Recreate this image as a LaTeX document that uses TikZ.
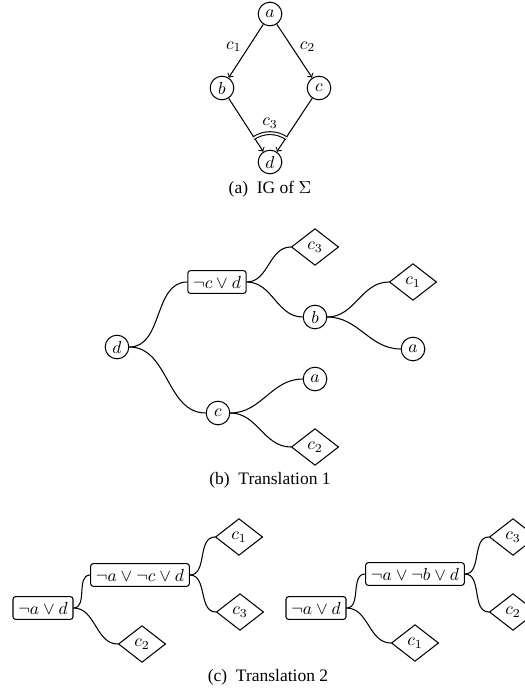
\documentclass[tikz,border=0pt]{standalone}
\usepackage[no-math]{fontspec}
\setmainfont{Liberation Serif}
\usetikzlibrary{shapes.geometric,calc}

\begin{document}
\begin{tikzpicture}[x=0.5714pt,y=0.5714pt,line width=0.6pt,
  every node/.style={font=\normalsize,line width=0.6pt},
  var/.style={circle,draw,inner sep=1.5pt,minimum size=13.5pt},
  clause/.style={rectangle,draw,rounded corners=1.5pt,inner sep=3pt,
    minimum height=13pt},
  cons/.style={diamond,draw,inner sep=0pt,minimum width=27pt,minimum height=21pt},
  branch/.style={out=0,in=180},
  caption/.style={anchor=base}]
  \useasboundingbox (0,0) rectangle (525,-688);
  % (a) IG
  \node[var] (ga) at (270,-14) {$a$};
  \node[var] (gb) at (222,-88) {$b$};
  \node[var] (gc) at (319,-88) {$c$};
  \node[var] (gd) at (270,-162) {$d$};
  \draw[->] (ga) -- node[pos=0.42,left=0.5pt] {$c_1$} (gb);
  \draw[->] (ga) -- node[pos=0.42,right=1pt] {$c_2$} (gc);
  \draw[->] (gb) -- (gd);
  \draw[->] (gc) -- (gd);
  \draw[double,double distance=1pt] ($(gd)+(125:16.5pt)$) arc[start angle=125,end angle=55,radius=16.5pt];
  \node (gc3) at (270,-123) {$c_3$};
  \node[caption] (capa) at (270,-193) {(a)\ \ IG of $\Sigma$};
  % (b) Translation 1
  \node[var] (td) at (117,-347) {$d$};
  \node[clause] (tcd) at (217,-282) {$\neg c\vee d$};
  \node[cons] (tc3) at (315,-247) {$c_3$};
  \node[var] (tb) at (315,-317) {$b$};
  \node[cons] (tc1) at (413,-282) {$c_1$};
  \node[var] (ta1) at (413,-349) {$a$};
  \node[var] (tc) at (218,-413) {$c$};
  \node[var] (ta2) at (315,-379) {$a$};
  \node[cons] (tc2) at (315,-447) {$c_2$};
  \draw (td.east) to[branch] (tcd.west);
  \draw (td.east) to[branch] (tc.west);
  \draw (tcd.east) to[branch] (tc3.west);
  \draw (tcd.east) to[branch] (tb.west);
  \draw (tb.east) to[branch] (tc1.west);
  \draw (tb.east) to[branch] (ta1.west);
  \draw (tc.east) to[branch] (ta2.west);
  \draw (tc.east) to[branch] (tc2.west);
  \node[caption] (capb) at (270,-484) {(b)\ \ Translation 1};
  % (c) Translation 2, left tree
  \node[clause] (lad) at (43,-608) {$\neg a\vee d$};
  \node[clause] (lacd) at (140,-575) {$\neg a\vee\neg c\vee d$};
  \node[cons] (lc1) at (239,-537) {$c_1$};
  \node[cons] (lc3) at (240,-612) {$c_3$};
  \node[cons] (lc2) at (142,-644) {$c_2$};
  \draw (lad.east) to[branch] (lacd.west);
  \draw (lad.east) to[branch] (lc2.west);
  \draw (lacd.east) to[branch] (lc1.west);
  \draw (lacd.east) to[branch] (lc3.west);
  % right tree
  \node[clause] (rad) at (316,-608) {$\neg a\vee d$};
  \node[clause] (rabd) at (415,-574) {$\neg a\vee\neg b\vee d$};
  \node[cons] (rc3) at (513,-537) {$c_3$};
  \node[cons] (rc2) at (513,-612) {$c_2$};
  \node[cons] (rc1) at (415,-643) {$c_1$};
  \draw (rad.east) to[branch] (rabd.west);
  \draw (rad.east) to[branch] (rc1.west);
  \draw (rabd.east) to[branch] (rc3.west);
  \draw (rabd.east) to[branch] (rc2.west);
  \node[caption] (capc) at (268,-681) {(c)\ \ Translation 2};
\end{tikzpicture}
\end{document}
